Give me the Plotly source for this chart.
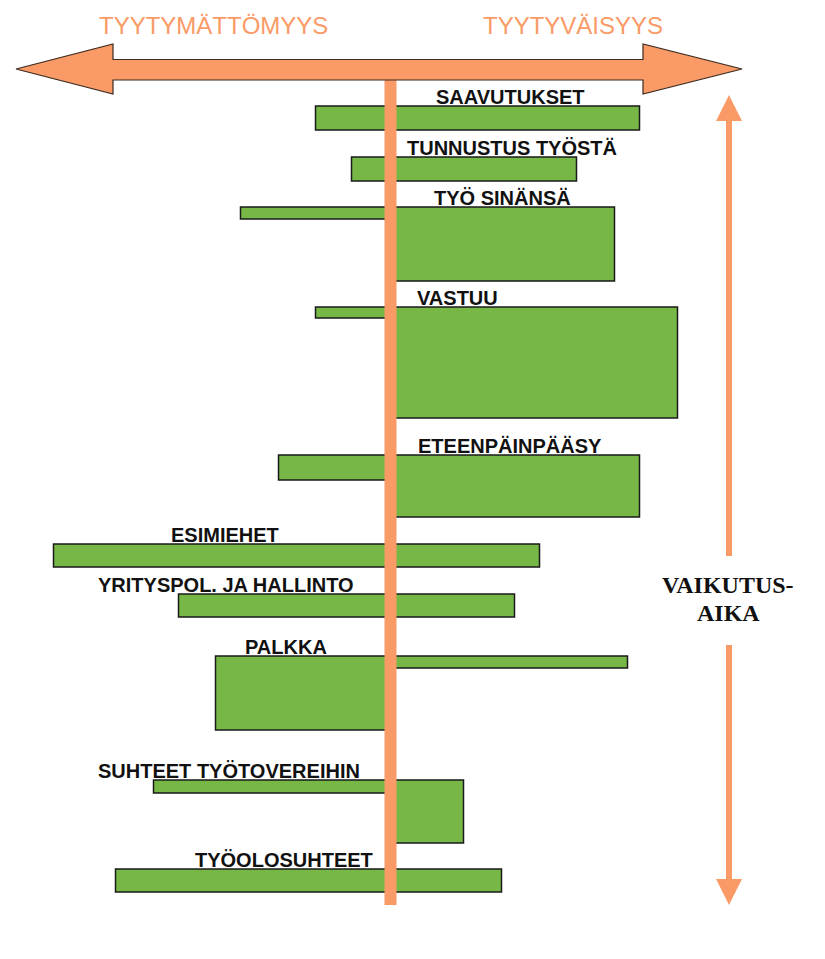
import plotly.graph_objects as go

# ---------------- data ----------------
factors = ["SAAVUTUKSET", "TUNNUSTUS TYÖSTÄ", "TYÖ SINÄNSÄ", "VASTUU", "ETEENPÄINPÄÄSY",
           "ESIMIEHET", "YRITYSPOL. JA HALLINTO", "PALKKA", "SUHTEET TYÖTOVEREIHIN", "TYÖOLOSUHTEET"]
# extent towards dissatisfaction (left) and satisfaction (right)
dissatisfaction = [75, 39, 150, 75, 112, 337, 212, 175, 237, 275]
satisfaction = [249, 186, 224, 287, 249, 149, 124, 237, 73, 111]
# duration of effect (bar thickness) on each side
dissat_duration = [24, 24, 12, 11, 25, 23, 23, 74, 13, 23]
satis_duration = [24, 24, 74, 111, 62, 23, 23, 12, 63, 23]
# row start (vertical order of the factors)
row_start = [106, 157, 207, 307, 455, 544, 594, 656, 780, 869]

# ---------------- layout helpers ----------------
PAGE_W, PAGE_H = 825, 959
OFF = 8  # default page body margin
W, H = PAGE_W - OFF, PAGE_H - OFF
CENTER = 390.5
label_px = [510, 512, 502, 457, 510, 225, 226, 286, 229, 284]

ORANGE = "#FA9A66"
GREEN = "#76B746"
OUTLINE = "#1a1a1a"


def X(px):
    return px - CENTER


fig = go.Figure()

# left (dissatisfaction) bars
fig.add_trace(go.Bar(
    orientation="h",
    y=[t + d / 2 for t, d in zip(row_start, dissat_duration)],
    x=dissatisfaction,
    base=[-v for v in dissatisfaction],
    width=dissat_duration,
    marker=dict(color=GREEN, line=dict(color=OUTLINE, width=1.5)),
    hoverinfo="skip", showlegend=False,
))
# right (satisfaction) bars
fig.add_trace(go.Bar(
    orientation="h",
    y=[t + d / 2 for t, d in zip(row_start, satis_duration)],
    x=satisfaction,
    base=[0] * len(satisfaction),
    width=satis_duration,
    marker=dict(color=GREEN, line=dict(color=OUTLINE, width=1.5)),
    hoverinfo="skip", showlegend=False,
))

shapes = []
# central vertical line
shapes.append(dict(type="rect", xref="x", yref="y", x0=X(384.5), x1=X(396.5), y0=80, y1=905,
                   fillcolor=ORANGE, line=dict(width=0), layer="above"))
# top double arrow
arrow_pts = [(16, 69), (113, 44), (113, 59.5), (643, 59.5), (643, 44), (742, 69),
             (643, 94), (643, 80), (113, 80), (113, 94)]
path = "M " + " L ".join(f"{X(px)},{py}" for px, py in arrow_pts) + " Z"
shapes.append(dict(type="path", xref="x", yref="y", path=path, fillcolor=ORANGE,
                   line=dict(color="#3b2a20", width=1.2), layer="above"))
# right vertical arrow (duration)
AX = 729
shapes.append(dict(type="rect", xref="x", yref="y", x0=X(AX - 3), x1=X(AX + 3), y0=118, y1=556,
                   fillcolor=ORANGE, line=dict(width=0), layer="above"))
shapes.append(dict(type="rect", xref="x", yref="y", x0=X(AX - 3), x1=X(AX + 3), y0=645, y1=882,
                   fillcolor=ORANGE, line=dict(width=0), layer="above"))
shapes.append(dict(type="path", xref="x", yref="y",
                   path=f"M {X(AX)},95 L {X(AX + 13)},121 L {X(AX - 13)},121 Z",
                   fillcolor=ORANGE, line=dict(width=0), layer="above"))
shapes.append(dict(type="path", xref="x", yref="y",
                   path=f"M {X(AX)},905 L {X(AX + 13)},879 L {X(AX - 13)},879 Z",
                   fillcolor=ORANGE, line=dict(width=0), layer="above"))

annotations = []
for name, lx, top in zip(factors, label_px, row_start):
    annotations.append(dict(x=X(lx), y=top - 9, xref="x", yref="y", text=f"<b>{name}</b>",
                            showarrow=False, xanchor="center", yanchor="middle",
                            font=dict(family="Liberation Sans, Arial", size=20, color="#111111")))
annotations.append(dict(x=X(213.5), y=25, xref="x", yref="y", text="TYYTYMÄTTÖMYYS",
                        showarrow=False, xanchor="center", yanchor="middle",
                        font=dict(family="Liberation Sans, Arial", size=24, color=ORANGE)))
annotations.append(dict(x=X(572.5), y=25, xref="x", yref="y", text="TYYTYVÄISYYS",
                        showarrow=False, xanchor="center", yanchor="middle",
                        font=dict(family="Liberation Sans, Arial", size=24, color=ORANGE)))
for txt, yy in (("VAIKUTUS-", 585), ("AIKA", 613)):
    annotations.append(dict(x=X(728), y=yy, xref="x", yref="y", text=f"<b>{txt}</b>",
                            showarrow=False, xanchor="center", yanchor="middle",
                            font=dict(family="Liberation Serif, Times New Roman", size=24,
                                      color="#111111")))

fig.update_layout(
    width=W, height=H,
    margin=dict(l=0, r=0, t=0, b=0),
    paper_bgcolor="white", plot_bgcolor="white",
    barmode="overlay",
    xaxis=dict(range=[X(OFF), X(PAGE_W)], visible=False, fixedrange=True),
    yaxis=dict(range=[PAGE_H, OFF], visible=False, fixedrange=True),
    shapes=shapes, annotations=annotations,
    showlegend=False,
)

fig.write_html("out.html")
